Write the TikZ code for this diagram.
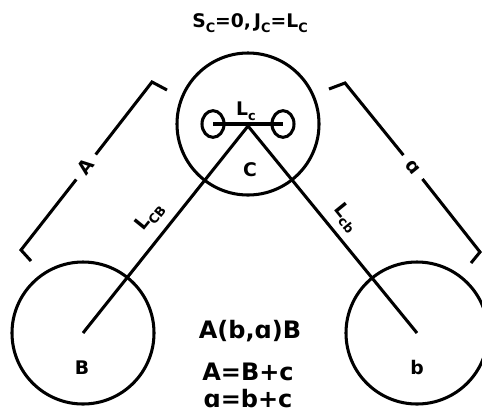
\documentclass[tikz,border=0pt]{standalone}
\usepackage{fontspec}
\setmainfont{DejaVu Sans}
\usetikzlibrary{positioning,shapes.geometric}
\newcommand{\subtxt}[1]{\raisebox{-0.45ex}{\fontsize{11}{13}\selectfont #1}}

\begin{document}
\begin{tikzpicture}[x=0.03cm,y=-0.03cm,line width=2.6pt,
    orb/.style={circle,draw,minimum size=4.26cm,inner sep=0pt},
    loop/.style={ellipse,draw,minimum width=0.66cm,minimum height=0.8cm,inner sep=0pt},
    lbl/.style={font=\fontsize{16}{18}\selectfont\bfseries,inner sep=1pt},
    tag/.style={font=\fontsize{16}{18}\selectfont\bfseries,inner sep=6pt},
    eqn/.style={font=\fontsize{20.5}{24}\selectfont\bfseries,inner sep=1pt}]
    \useasboundingbox (0,0) rectangle (482,411);
    \node [lbl] (top) at (250,23) {S\subtxt{C}=0,\,J\subtxt{C}=L\subtxt{C}};
    \node [orb] (C) at (248,124) {};
    \node [orb] (B) at (83,333) {};
    \node [orb] (b) at (417,333) {};
    \node [loop] (e1) at (213,124) {};
    \node [loop] (e2) at (283,124) {};
    \draw (e1.center)--(e2.center);
    \node [lbl] (Lc) at (246,111) {L\subtxt{c}};
    \coordinate (apex) at (248,126);
    \draw (B.center)--(apex)--(b.center);
    \node [lbl] (Ctag) at (250,170) {C};
    \node [lbl] (Btag) at (82,368) {B};
    \node [lbl] (btag) at (417,368) {b};
    \node [lbl,rotate=51] (LcB) at (150,217) {L\subtxt{CB}};
    \node [lbl,rotate=-51] (Lcb) at (346,218) {L\subtxt{cb}};
    \node [tag,rotate=52] (Atag) at (86,167) {A};
    \draw (167,90)--(152,82)--(Atag);
    \draw (Atag)--(21,250)--(31,261);
    \node [tag,rotate=-51] (atag) at (413,167) {ɑ};
    \draw (329,89)--(345,83)--(atag);
    \draw (atag)--(480,252)--(471,263);
    \node [eqn] (eq1) at (250,331) {A(b,ɑ)B};
    \node [eqn] (eq2) at (248,372) {A=B+c};
    \node [eqn] (eq3) at (248,399) {ɑ=b+c};
\end{tikzpicture}
\end{document}
